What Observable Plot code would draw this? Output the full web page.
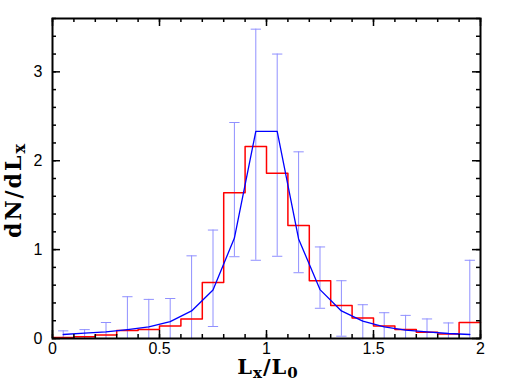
<!DOCTYPE html>
<html>
<head>
<meta charset="utf-8">
<script src="https://cdn.jsdelivr.net/npm/d3@7"></script>
<script src="https://cdn.jsdelivr.net/npm/@observablehq/plot@0.6"></script>
<style>
  html, body { margin: 0; padding: 0; background: #fff; }
  #chart svg { display: block; }
</style>
</head>
<body>
<div id="chart"></div>
<script>
// Bin lower edges (width 0.1) and histogram heights (red)
const binLo = [0.0,0.1,0.2,0.3,0.4,0.5,0.6,0.7,0.8,0.9,1.0,1.1,1.2,1.3,1.4,1.5,1.6,1.7,1.8,1.9];
const binWidth = 0.1;
const histVals = [0.01,0.02,0.04,0.09,0.10,0.14,0.22,0.63,1.64,2.16,1.86,1.27,0.65,0.37,0.23,0.14,0.10,0.07,0.05,0.18];
// Model curve (blue) at bin centres
const modelVals = [0.045,0.06,0.075,0.10,0.13,0.19,0.31,0.545,1.13,2.33,2.33,1.12,0.55,0.31,0.195,0.13,0.094,0.075,0.056,0.045];
// Error bars at bin centres
const errLow  = [0,0,0,0,0,0,0,0.135,0.92,0.88,0.925,0.74,0.34,0.026,0,0,0,0,0,0];
const errHigh = [0.086,0.10,0.18,0.47,0.44,0.45,0.93,1.22,2.43,3.48,3.20,2.10,1.03,0.65,0.38,0.29,0.26,0.22,0.175,0.88];
// Ticks
const xMajor = [0, 0.5, 1, 1.5, 2];
const xMinor = d3.range(0, 2.0001, 0.1).map(v => +v.toFixed(1));
const yMajor = [0, 1, 2, 3];
const yMinor = d3.range(0, 3.6001, 0.2).map(v => +v.toFixed(1));

const W = 510, H = 382;
const mL = 52, mR = 30, mT = 18, mB = 44;
const fw = W - mL - mR, fh = H - mT - mB;

const centres = binLo.map(lo => +(lo + binWidth / 2).toFixed(2));
const steps = binLo.map((lo, i) => ({x: lo, y: histVals[i]}));
steps.push({x: binLo[binLo.length - 1] + binWidth, y: histVals[histVals.length - 1]});
const model = centres.map((c, i) => ({x: c, y: modelVals[i]}));
const errs = centres.map((c, i) => ({x: c, lo: errLow[i], hi: errHigh[i]}));
const capHalf = 0.024;

const tickFont = "'Liberation Sans', Arial, sans-serif";

const chart = Plot.plot({
  width: W, height: H,
  marginLeft: mL, marginRight: mR, marginTop: mT, marginBottom: mB,
  x: {domain: [0, 2], axis: null},
  y: {domain: [0, 3.6], axis: null},
  style: {fontFamily: tickFont, background: "#fff", overflow: "visible"},
  marks: [
    // error bars
    Plot.ruleX(errs, {x: "x", y1: "lo", y2: "hi", stroke: "#9090ff", strokeWidth: 1}),
    Plot.link(errs, {x1: d => d.x - capHalf, x2: d => d.x + capHalf, y1: "hi", y2: "hi", stroke: "#9090ff", strokeWidth: 1}),
    Plot.link(errs.filter(d => d.lo > 0), {x1: d => d.x - capHalf, x2: d => d.x + capHalf, y1: "lo", y2: "lo", stroke: "#9090ff", strokeWidth: 1}),
    // histogram
    Plot.line(steps, {x: "x", y: "y", curve: "step-after", stroke: "#ff0000", strokeWidth: 1.5}),
    // model
    Plot.line(model, {x: "x", y: "y", stroke: "#0000ff", strokeWidth: 1.3}),
    // inward ticks: bottom/top minor & major
    Plot.tickX(xMinor, {x: d => d, insetTop: fh - 4, stroke: "#000", strokeWidth: 1.5}),
    Plot.tickX(xMinor, {x: d => d, insetBottom: fh - 4, stroke: "#000", strokeWidth: 1.5}),
    Plot.tickX(xMajor, {x: d => d, insetTop: fh - 8, stroke: "#000", strokeWidth: 1.5}),
    Plot.tickX(xMajor, {x: d => d, insetBottom: fh - 8, stroke: "#000", strokeWidth: 1.5}),
    Plot.tickY(yMinor, {y: d => d, insetRight: fw - 4, stroke: "#000", strokeWidth: 1.5}),
    Plot.tickY(yMinor, {y: d => d, insetLeft: fw - 4, stroke: "#000", strokeWidth: 1.5}),
    Plot.tickY(yMajor, {y: d => d, insetRight: fw - 8, stroke: "#000", strokeWidth: 1.5}),
    Plot.tickY(yMajor, {y: d => d, insetLeft: fw - 8, stroke: "#000", strokeWidth: 1.5}),
    // tick labels
    Plot.axisX(xMajor, {anchor: "bottom", label: null, tickSize: 0, tickPadding: 4, fontSize: 16, fill: "#000", tickFormat: d => String(d)}),
    Plot.axisY(yMajor, {anchor: "left", label: null, tickSize: 0, tickPadding: 10, fontSize: 16, fill: "#000", tickFormat: d => String(d)}),
    Plot.frame({stroke: "#000", strokeWidth: 2})
  ]
});

document.getElementById("chart").appendChild(chart);

// axis titles with subscripts
const svg = d3.select(chart);
const serif = "'DejaVu Serif', 'Liberation Serif', serif";
const xt = svg.append("text")
  .attr("x", mL + fw / 2 + 2).attr("y", H - 8)
  .attr("text-anchor", "middle")
  .style("font-family", serif).style("font-weight", "bold").style("font-size", "21px")
  .style("letter-spacing", "1px").attr("fill", "#000");
xt.append("tspan").text("L");
xt.append("tspan").attr("dy", 4).style("font-size", "15px").text("x");
xt.append("tspan").attr("dy", -4).text("/L");
xt.append("tspan").attr("dy", 4).style("font-size", "15px").text("0");

const yt = svg.append("text")
  .attr("transform", `translate(21,${mT + fh / 2 + 12}) rotate(-90)`)
  .attr("text-anchor", "middle")
  .style("font-family", serif).style("font-weight", "bold").style("font-size", "22px")
  .style("letter-spacing", "2px").attr("fill", "#000");
yt.append("tspan").text("dN/dL");
yt.append("tspan").attr("dy", 4).style("font-size", "16px").text("x");
</script>
</body>
</html>
